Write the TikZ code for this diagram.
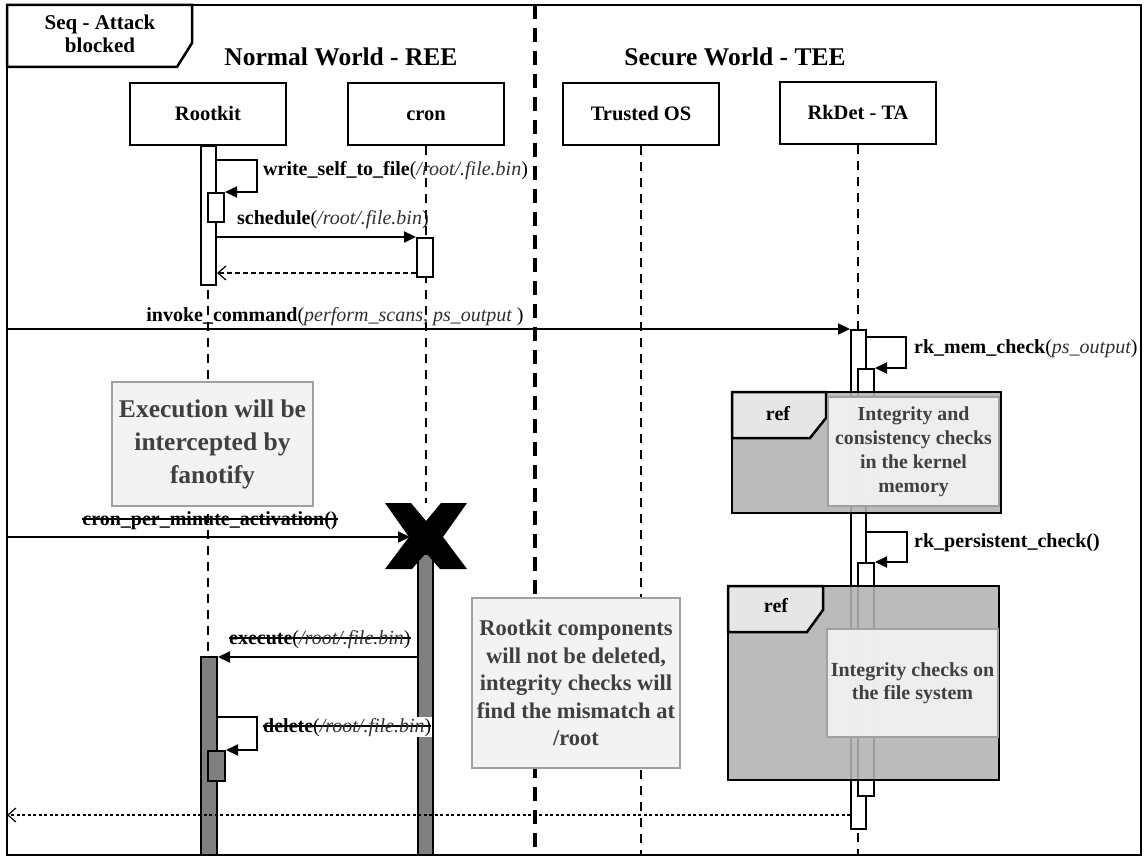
\documentclass[tikz,border=0pt]{standalone}
\usepackage{fontspec}
\setmainfont{Liberation Serif}
\usetikzlibrary{arrows.meta}
\definecolor{notefill}{HTML}{F3F3F3}
\definecolor{noteborder}{HTML}{A0A0A0}
\definecolor{notetext}{HTML}{404040}
\definecolor{reffill}{HTML}{B2B2B2}
\definecolor{tabfill}{HTML}{E6E6E6}
\definecolor{actgray}{HTML}{808080}
\definecolor{argcol}{HTML}{303030}
\newcommand\strk[1]{\setbox0\hbox{#1}\rlap{\rule[0.26em]{\wd0}{0.08em}}\box0}
\newcommand\argt[1]{{\color{argcol}\itshape #1}}
\begin{document}
\begin{tikzpicture}[x=1pt,y=-1pt,
 frame/.style={draw, line width=2.5pt},
 hdr/.style={draw, line width=2.5pt, fill=white, minimum width=156pt, minimum height=62pt, inner sep=0pt, text height=15pt, text depth=1pt, font=\fontsize{20.5}{24}\selectfont\bfseries},
 world/.style={font=\fontsize{25.5}{28}\selectfont\bfseries, inner sep=0pt},
 life/.style={line width=2.2pt, dash pattern=on 9pt off 7pt},
 divider/.style={line width=3.5pt, dash pattern=on 14pt off 9pt},
 bar/.style={draw, line width=2pt, fill=white, minimum width=15pt, inner sep=0pt, anchor=north},
 gbar/.style={bar, fill=actgray},
 msg/.style={line width=2pt, -{Triangle[length=12pt,width=11pt]}},
 ret/.style={line width=1.2pt, dash pattern=on 5pt off 3pt, -{Straight Barb[length=8pt,width=14pt,line width=1.2pt]}},
 ret2/.style={line width=1.3pt, dash pattern=on 3pt off 2.5pt, -{Straight Barb[length=8pt,width=14pt,line width=1.2pt]}},
 lbl/.style={font=\fontsize{20}{22}\selectfont, inner sep=1pt, anchor=base west},
 note/.style={draw=noteborder, fill=notefill, line width=1.5pt, text=notetext, align=center, inner sep=0pt},
 refbox/.style={draw, line width=2.5pt, fill=reffill, fill opacity=0.88},
 tab/.style={draw, line width=2.5pt, fill=tabfill},
]
\useasboundingbox (0,0) rectangle (1144,856);
\fill[white] (0,0) rectangle (1144,856);

% divider
\coordinate (dtop) at (535,5);
\coordinate (dbot) at (535,855);
\draw[divider] (dtop) -- (dbot);

% title tab
\draw[frame, fill=white] (7,5) -- (192,5) -- (192,43) -- (177,67) -- (7,67) -- cycle;
\node[font=\fontsize{21}{23}\selectfont\bfseries, align=center] (title) at (100,34) {Seq - Attack\\blocked};

% world titles
\node[world] (nw) at (341,57) {Normal World - REE};
\node[world] (sw) at (735,57) {Secure World - TEE};

% headers
\node[hdr] (rk) at (208,114) {Rootkit};
\node[hdr] (cr) at (426,114) {cron};
\node[hdr] (tos) at (641,114) {Trusted OS};
\node[hdr] (ta) at (858,113) {RkDet - TA};

% lifelines
\coordinate (rkbot) at (208,855);
\coordinate (xtop) at (426,503);
\coordinate (tosbot) at (641,855);
\coordinate (tabot) at (858,855);
\draw[life] (rk.south) -- (rkbot);
\draw[life] (cr.south) -- (xtop);
\draw[life] (tos.south) -- (tosbot);
\draw[life] (ta.south) -- (tabot);

% activation bars
\node[bar, minimum height=139pt] (rkA) at (208.5,145) {};
\node[bar, minimum width=16pt, minimum height=29pt] (rkB) at (216,192) {};
\node[bar, minimum width=16pt, minimum height=39pt] (crA) at (425,237) {};
\node[bar, minimum height=499pt] (taA) at (858.5,329) {};
\node[bar, minimum width=16pt, minimum height=132pt] (taB) at (866,368) {};
\node[bar, minimum width=16pt, minimum height=233pt] (taC) at (866,562) {};
\node[gbar, minimum height=302pt] (crB) at (425.5,553) {};
\node[gbar, minimum width=16pt, minimum height=199pt] (rkC) at (209,656) {};
\node[gbar, minimum width=17pt, minimum height=30pt] (rkD) at (216.5,750) {};

% y levels
\coordinate (y160) at (0,160);
\coordinate (y273) at (0,273);
\coordinate (y337) at (0,337);
\coordinate (y532) at (0,532);
\coordinate (y657) at (0,657);
\coordinate (y717) at (0,717);
\coordinate (y815) at (0,815);
\coordinate (L1) at (7,329);
\coordinate (L2) at (7,537);
\coordinate (L3) at (7,815);
\coordinate (xw) at (410,537);

% messages
\draw[msg] (rkA.east |- y160) -- ++(40,0) |- (rkB.north east);
\draw[msg] (rkA.east |- crA.north) -- (crA.north west);
\draw[ret] (crA.west |- y273) -- (rkA.east |- y273);
\draw[msg] (L1) -- (taA.north west);
\draw[msg] (taA.east |- y337) -- ++(39,0) |- (taB.north east);
\draw[msg] (taA.east |- y532) -- ++(40,0) |- (taC.north east);
\draw[msg] (L2) -- (xw);
\draw[msg] (crB.west |- y657) -- (rkC.east |- y657);
\draw[msg] (rkC.east |- y717) -- ++(39,0) |- (rkD.north east);
\draw[ret2] (taA.west |- y815) -- (L3);

% destruction X
\coordinate (xc) at (426,537);
\fill (385,503) -- (411,503) -- (426,521) -- (441,503) -- (467,503) -- (443,537) -- (467,569) -- (440,569) -- (426,553) -- (412,569) -- (385,569) -- (409,537) -- cycle;

% ref 1
\draw[refbox] (732,392) rectangle (1001,513);
\draw[tab] (732,392) -- (826,392) -- (826,418) -- (810,438) -- (732,438) -- cycle;
\node[font=\fontsize{20}{24}\selectfont\bfseries] (ref1) at (778,414) {ref};
\node[note, fill opacity=0.92, text opacity=1, minimum width=171pt, minimum height=109pt, font=\fontsize{19.8}{24}\selectfont\bfseries] (rn1) at (913.5,451.5) {Integrity and\\consistency checks\\in the kernel\\memory};

% ref 2
\draw[refbox] (728,586) rectangle (999,780);
\draw[tab] (728,586) -- (823,586) -- (823,610) -- (807,632) -- (728,632) -- cycle;
\node[font=\fontsize{20}{24}\selectfont\bfseries] (ref2) at (776,606) {ref};
\node[note, fill opacity=0.92, text opacity=1, minimum width=171pt, minimum height=108pt, font=\fontsize{20}{23.5}\selectfont\bfseries] (rn2) at (912.5,683) {Integrity checks on\\the file system};

% notes
\node[note, minimum width=201pt, minimum height=124pt, font=\fontsize{25.5}{33}\selectfont\bfseries] (n1) at (212.5,444) {Execution will be\\intercepted by\\fanotify};
\node[note, minimum width=208pt, minimum height=170pt, font=\fontsize{22.5}{27.5}\selectfont\bfseries] (n3) at (576,683) {Rootkit components\\will not be deleted,\\integrity checks will\\find the mismatch at\\/root};

% labels
\node[lbl] (l1) at (262,176) {\textbf{write\_self\_to\_file}(\argt{/root/.file.bin})};
\node[lbl] (l2) at (236,224) {\textbf{schedule}(\argt{/root/.file.bin})};
\node[lbl, anchor=base] (l3) at (335,321) {\textbf{invoke\_command}(\argt{perform\_scans, ps\_output })};
\node[lbl] (l4) at (913,353) {\textbf{rk\_mem\_check}(\argt{ps\_output})};
\node[lbl] (l5) at (913,547) {\textbf{rk\_persistent\_check()}};
\node[lbl, anchor=base] (l6) at (210,525) {\strk{\textbf{cron\_per\_minute\_activation()}}};
\node[lbl] (l7) at (228,644) {\strk{\textbf{execute}(\argt{/root/.file.bin})}};
\node[lbl, fill=white] (l8) at (262,732) {\strk{\textbf{delete}(\argt{/root/.file.bin})}};

% outer frame
\draw[frame] (7,5) rectangle (1141,855);
\end{tikzpicture}
\end{document}
